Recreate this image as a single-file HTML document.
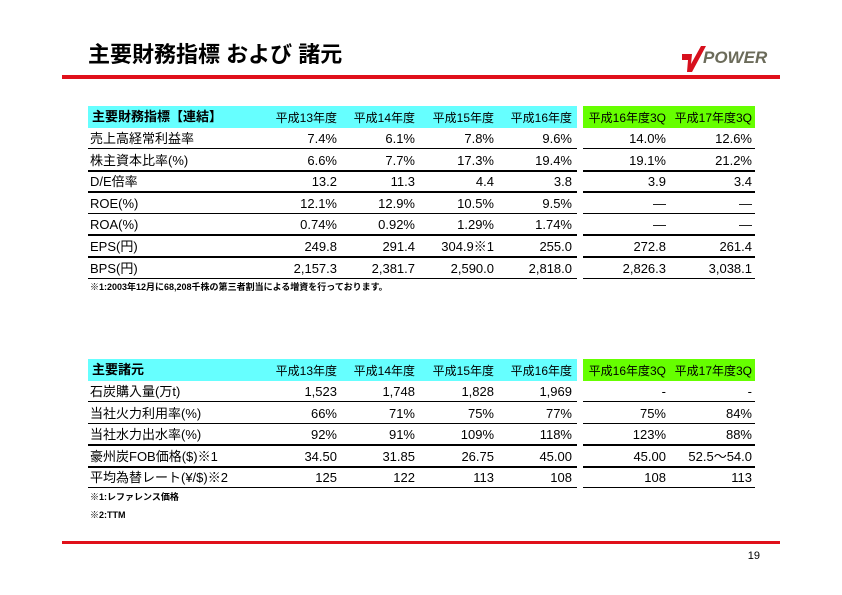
<!DOCTYPE html>
<html><head><meta charset="utf-8">
<style>
body{margin:0;background:#fff;}
#page{position:relative;width:842px;height:595px;overflow:hidden;background:#fff;font-family:"Liberation Sans","Noto Sans CJK JP",sans-serif;color:#000;}
.abs{position:absolute;white-space:nowrap;}
.t{font-size:13px;line-height:14px;}
.r{text-align:right;}
.ln{position:absolute;height:1px;background:#000;}
.ln.b{height:2px;}
.fn{font-size:9px;font-weight:bold;}
</style></head><body>
<div id="page">
<div class="abs" style="left:88px;top:41px;font-size:22px;font-weight:bold;line-height:28px;">主要財務指標 および 諸元</div>
<div class="abs" style="left:678px;top:42px;width:100px;height:32px;">
<svg width="100" height="32"><path d="M4 12 L14 12 L13 22 L23 4 L28 4 L14 30 L9 30 L10 18 L4 18 Z" fill="#d7101d"/><text x="25" y="21" font-family="Liberation Sans" font-weight="bold" font-style="italic" font-size="17" fill="#6b6b5a">POWER</text></svg>
</div>
<div class="abs" style="left:62px;top:75px;width:718px;height:4px;background:#e0101a;"></div>
<div class="abs" style="left:62px;top:541px;width:718px;height:3px;background:#e0101a;"></div>
<div class="abs" style="left:740px;top:550px;font-size:11px;width:20px;text-align:right;">19</div>
</div>
<script>
const cols=[337,415,494,572,666,752];
const hdr=["平成13年度","平成14年度","平成15年度","平成16年度","平成16年度3Q","平成17年度3Q"];
const t1Labels=["売上高経常利益率","株主資本比率(%)","D/E倍率","ROE(%)","ROA(%)","EPS(円)","BPS(円)"];
const t1Vals=[["7.4%","6.1%","7.8%","9.6%","14.0%","12.6%"],["6.6%","7.7%","17.3%","19.4%","19.1%","21.2%"],["13.2","11.3","4.4","3.8","3.9","3.4"],["12.1%","12.9%","10.5%","9.5%","―","―"],["0.74%","0.92%","1.29%","1.74%","―","―"],["249.8","291.4","304.9※1","255.0","272.8","261.4"],["2,157.3","2,381.7","2,590.0","2,818.0","2,826.3","3,038.1"]];
const t1Bold=[0,1,1,0,1,1,0];
const t2Labels=["石炭購入量(万t)","当社火力利用率(%)","当社水力出水率(%)","豪州炭FOB価格($)※1","平均為替レート(¥/$)※2"];
const t2Vals=[["1,523","1,748","1,828","1,969","-","-"],["66%","71%","75%","77%","75%","84%"],["92%","91%","109%","118%","123%","88%"],["34.50","31.85","26.75","45.00","45.00","52.5～54.0"],["125","122","113","108","108","113"]];
const t2Bold=[0,0,1,1,0];
const pg=document.getElementById('page');
function mk(cls,style,text){const d=document.createElement('div');d.className=cls;d.style.cssText=style;if(text!==undefined)d.textContent=text;pg.appendChild(d);return d;}
function table(top,title,labels,vals,bold,prefix){
  let e=mk('abs','left:88px;top:'+top+'px;width:489px;height:22px;background:#66ffff;');
  
  
  e=mk('abs','left:583px;top:'+top+'px;width:172px;height:22px;background:#66ff00;');
  
  
  e=mk('abs t','left:92px;top:'+(top+4)+'px;font-weight:bold;',title);
  
  
  hdr.forEach((h,i)=>{
    e=mk('abs t r','left:'+(cols[i]-90)+'px;width:90px;top:'+(top+5)+'px;font-size:12px;',h);
    
    
  });
  labels.forEach((l,r)=>{
    const y=top+22+r*21.6;
    e=mk('abs t','left:90px;top:'+(y+4)+'px;',l);
    
    
    vals[r].forEach((v,i)=>{
      e=mk('abs t r','left:'+(cols[i]-90)+'px;width:90px;top:'+(y+4)+'px;',v);
      
      
    });
    const cl=bold[r]?'ln b':'ln';
    e=mk(cl,'left:88px;width:489px;top:'+Math.round(y+20)+'px;');
    
    
    e=mk(cl,'left:583px;width:172px;top:'+Math.round(y+20)+'px;');
    
    
  });
}
table(106,"主要財務指標【連結】",t1Labels,t1Vals,t1Bold,'financial');
table(359,"主要諸元",t2Labels,t2Vals,t2Bold,'specs');
let f=mk('abs fn','left:90px;top:280px;','※1:2003年12月に68,208千株の第三者割当による増資を行っております。');


f=mk('abs fn','left:90px;top:490px;','※1:レファレンス価格');


f=mk('abs fn','left:90px;top:508px;','※2:TTM');


</script>
</body></html>
